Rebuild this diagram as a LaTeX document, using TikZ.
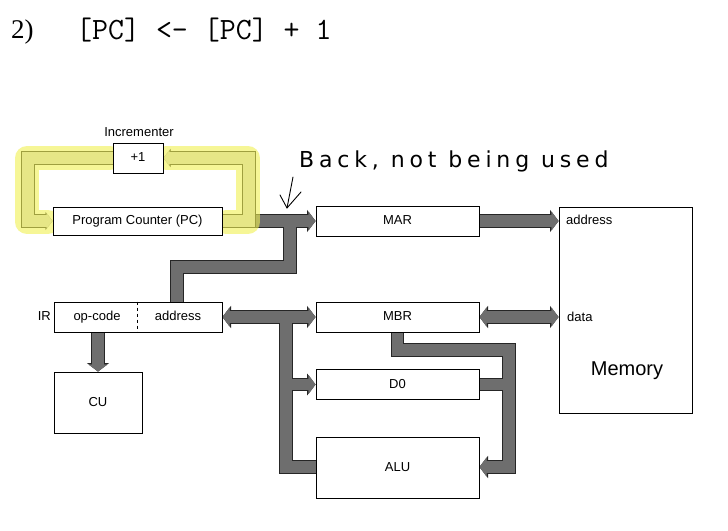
\documentclass[tikz,border=0pt]{standalone}
\usepackage{fontspec}
\setmainfont{Liberation Sans}
\newfontfamily\serifT{Liberation Serif}
\newfontfamily\handT{DejaVu Sans}[LetterSpace=22]
\usetikzlibrary{arrows.meta}
\pgfdeclarelayer{bg}
\pgfsetlayers{bg,main}
\definecolor{busgray}{RGB}{110,110,110}
\definecolor{loopgray}{RGB}{215,215,215}
\definecolor{hiyellow}{RGB}{240,240,80}
\newcommand\buslines{%
  \draw[bus,btip] (pc.east) -- (mar.west);
  \draw[bus] (j1) -- (j2) -- (j3) -- (j3 |- ir.north);
  \draw[bus,btip] (mar.east) -- (mar.east -| mem.west);
  \draw[bus,bdtip] (ir.east) -- (mbr.west);
  \draw[bus] (v1) -- (v2) -- (v2 -| alu.west);
  \draw[bus,btip] (v1 |- d0.west) -- (d0.west);
  \draw[bus,bdtip] (mbr.east) -- (mbr.east -| mem.west);
  \draw[bus,btip] (mbr.south) -- (m1) -- (m2) -- (m3) -- (m3 -| alu.east);
  \draw[bus] (d0.east) -- (d0.east -| m2);
  \draw[bus,btip] (cu.north |- ir.south) -- (cu.north);
}
\newcommand\looplines{%
  \draw[loopb,ltip] (inc.west) -- (l1) -- (l2) -- (pc.west);
  \draw[loopb,ltip] (pc.east) -- (r2) -- (r1) -- (inc.east);
}
\begin{document}
\begin{tikzpicture}[x=1pt,y=-1pt,
  box/.style={draw=black, line width=1pt, fill=white, inner sep=0pt, font=\fontsize{13}{15}\selectfont, text height=9.5pt, text depth=2.5pt},
  lbl/.style={inner sep=0pt, font=\fontsize{13}{15}\selectfont, text height=9.5pt, text depth=2.5pt},
]
\useasboundingbox (0,0) rectangle (728,530);
\begin{pgfonlayer}{bg}
\fill[white] (0,0) rectangle (728,530);
\end{pgfonlayer}

% title
\node[anchor=base west, inner sep=0pt, font=\serifT\fontsize{27}{30}\selectfont] (num) at (11,38) {2)};
\node[anchor=base west, inner sep=0pt, font=\ttfamily\fontsize{31}{34}\selectfont] (eq) at (76,39) {[PC] <- [PC] + 1};

% boxes
\node[box, minimum width=50pt, minimum height=30pt] (inc) at (138,158) {+1};
\node[lbl] (inclbl) at (139,133) {Incrementer};
\node[box, minimum width=169pt, minimum height=28pt] (pc) at (137.5,221) {Program Counter (PC)};
\node[box, minimum width=163pt, minimum height=30pt] (mar) at (397.5,221) {MAR};
\node[box, minimum width=133pt, minimum height=206pt] (mem) at (625.5,310) {};
\node[lbl, anchor=west] (addr) at (566,221) {address};
\node[lbl, anchor=west] (data) at (567,318) {data};
\node[lbl, font=\fontsize{20}{24}\selectfont, text height=14pt, text depth=4pt] (memlbl) at (627,370) {Memory};
\node[box, minimum width=168pt, minimum height=30pt] (ir) at (138,317) {};
\node[lbl] (opc) at (97,317) {op-code};
\node[lbl] (ira) at (178,317) {address};
\node[lbl, anchor=east] (irl) at (51,317) {IR};
\draw[dash pattern=on 3pt off 3pt, line width=0.6pt] (ir.north -| 137,0) -- (ir.south -| 137,0);
\node[box, minimum width=88pt, minimum height=61pt] (cu) at (98,402.5) {CU};
\node[box, minimum width=163pt, minimum height=30pt] (mbr) at (397.5,317) {MBR};
\node[box, minimum width=163pt, minimum height=30pt] (d0) at (397.5,384.5) {D0};
\node[box, minimum width=163pt, minimum height=61pt] (alu) at (397.5,467.5) {ALU};

% junction coordinates
\coordinate (j1) at (290,221);
\coordinate (j2) at (290,267);
\coordinate (j3) at (177,267);
\coordinate (v1) at (286,317);
\coordinate (v2) at (286,467);
\coordinate (m1) at (397.5,350);
\coordinate (m2) at (509,350);
\coordinate (m3) at (509,467);
\coordinate (l1) at (28,158);
\coordinate (l2) at (28,221);
\coordinate (r1) at (249,158);
\coordinate (r2) at (249,221);

\begin{pgfonlayer}{bg}
  \begin{scope}[bus/.style={line width=13.6pt, draw=black!85, line join=miter},
      btip/.style={-{Triangle[width=22pt,length=8.5pt,line width=0.4pt]}},
      bdtip/.style={{Triangle[width=22pt,length=8.5pt,line width=0.4pt]}-{Triangle[width=22pt,length=8.5pt,line width=0.4pt]}}]
    \buslines
  \end{scope}
  \begin{scope}[bus/.style={line width=11.4pt, draw=busgray, line join=miter},
      btip/.style={-{Triangle[width=19pt,length=7pt,line width=0.4pt]}},
      bdtip/.style={{Triangle[width=19pt,length=7pt,line width=0.4pt]}-{Triangle[width=19pt,length=7pt,line width=0.4pt]}}]
    \buslines
  \end{scope}
  \begin{scope}[loopb/.style={line width=13.5pt, draw=black!85, line join=miter},
      ltip/.style={-{Triangle[width=18pt,length=7pt,line width=0.4pt]}}]
    \looplines
  \end{scope}
  \begin{scope}[loopb/.style={line width=11.5pt, draw=loopgray, line join=miter},
      ltip/.style={-{Triangle[width=15.5pt,length=5.8pt,line width=0.4pt]}}]
    \looplines
  \end{scope}
  % highlighter
  \draw[hiyellow, opacity=0.6, line width=24pt, line join=round, line cap=round]
    (48,222) -- (27,222) -- (27,158) -- (110,158);
  \draw[hiyellow, opacity=0.6, line width=24pt, line join=round, line cap=round]
    (166,158) -- (248,158) -- (248,222) -- (226,222);
\end{pgfonlayer}

% handwritten note
\node[anchor=base west, inner sep=0pt, font=\handT\fontsize{22}{26}\selectfont] (note) at (299,167) {Back, not being used};
\coordinate (h1) at (293,177);
\coordinate (h2) at (287,208);
\draw[line width=0.9pt, line cap=round, line join=round] (h1) -- (h2);
\draw[line width=0.9pt, line cap=round, line join=round] (280,195) -- (h2) -- (301,192);
\end{tikzpicture}
\end{document}
